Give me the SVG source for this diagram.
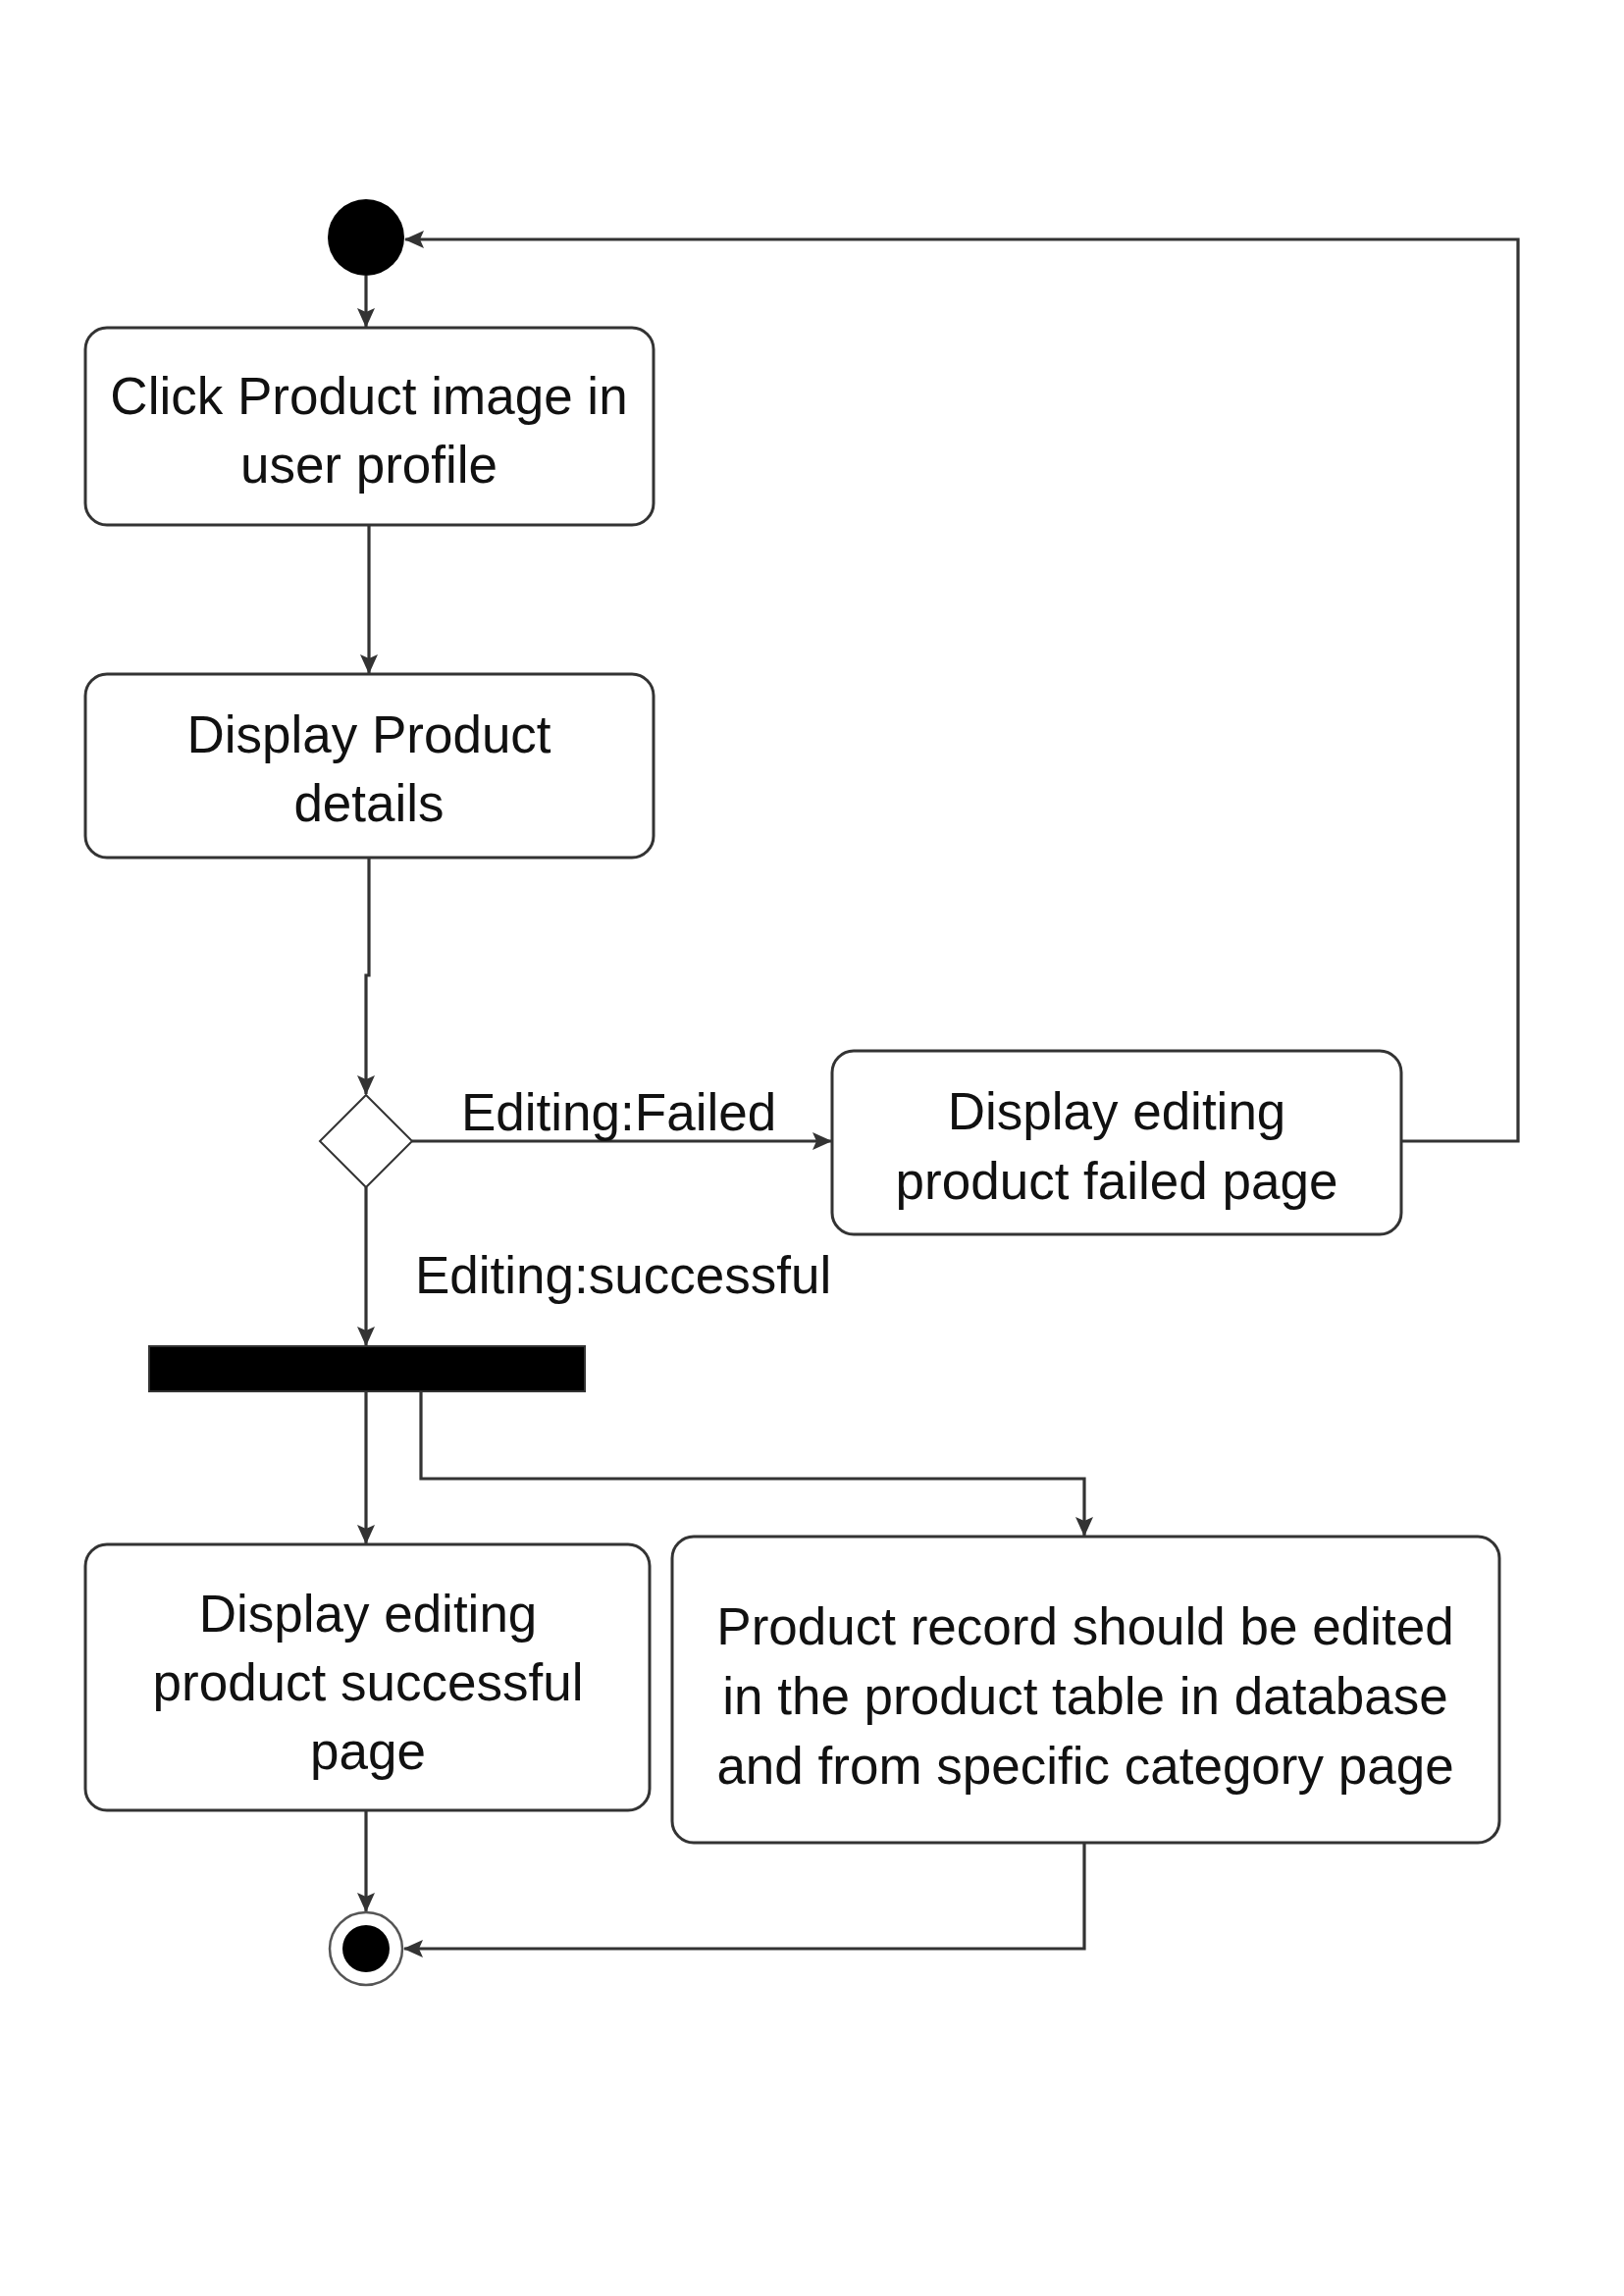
<svg xmlns="http://www.w3.org/2000/svg" width="1655" height="2340" viewBox="0 0 1655 2340">
<style>
.box{fill:#fff;stroke:#333;stroke-width:3}
.t{font-family:"Liberation Sans",Arial,sans-serif;font-size:53px;fill:#111;text-anchor:middle}
.lbl{font-family:"Liberation Sans",Arial,sans-serif;font-size:53px;fill:#111}
.c{fill:none;stroke:#333;stroke-width:3.2;marker-end:url(#ah)}
</style>
<defs>
<marker id="ah" markerUnits="userSpaceOnUse" markerWidth="22" markerHeight="22" viewBox="0 0 22 22" refX="20" refY="11" orient="auto">
<path d="M1,2 L21,11 L1,20 L5,11 z" fill="#333"/>
</marker>
</defs>
<rect width="1655" height="2340" fill="#fff"/>
<g id="connectors">
<path class="c" d="M373,281 V333"/>
<path class="c" d="M376,535 V686"/>
<path class="c" d="M376,874 V994 H373 V1115"/>
<path class="c" d="M420,1163 H847"/>
<path class="c" d="M1428,1163 H1547 V244 H413"/>
<path class="c" d="M373,1210 V1371"/>
<path class="c" d="M373,1418 V1573"/>
<path class="c" d="M429,1418 V1507 H1105 V1565"/>
<path class="c" d="M373,1845 V1948"/>
<path class="c" d="M1105,1878 V1986 H412"/>
</g>
<g id="initial">
<circle cx="373" cy="242" r="39" fill="#000"/>
</g>
<g id="click-product">
<rect class="box" x="87" y="334" width="579" height="201" rx="22"/>
<text class="t" x="376" y="422">Click Product image in</text>
<text class="t" x="376" y="492">user profile</text>
</g>
<g id="display-details">
<rect class="box" x="87" y="687" width="579" height="187" rx="22"/>
<text class="t" x="376" y="767">Display Product</text>
<text class="t" x="376" y="837">details</text>
</g>
<g id="decision">
<polygon points="373,1116 420,1163 373,1210 326,1163" fill="#fff" stroke="#333" stroke-width="2"/>
</g>
<g id="label-failed">
<text class="lbl" x="470" y="1152">Editing:Failed</text>
</g>
<g id="failed-page">
<rect class="box" x="848" y="1071" width="580" height="187" rx="22"/>
<text class="t" x="1138" y="1151">Display editing</text>
<text class="t" x="1138" y="1222">product failed page</text>
</g>
<g id="label-successful">
<text class="lbl" x="423" y="1318">Editing:successful</text>
</g>
<g id="fork">
<rect x="152" y="1372" width="444" height="46" fill="#000" stroke="#333" stroke-width="2"/>
</g>
<g id="successful-page">
<rect class="box" x="87" y="1574" width="575" height="271" rx="22"/>
<text class="t" x="375" y="1663">Display editing</text>
<text class="t" x="375" y="1733">product successful</text>
<text class="t" x="375" y="1803">page</text>
</g>
<g id="record-edited">
<rect class="box" x="685" y="1566" width="843" height="312" rx="22"/>
<text class="t" x="1106" y="1676">Product record should be edited</text>
<text class="t" x="1106" y="1747">in the product table in database</text>
<text class="t" x="1106" y="1818">and from specific category page</text>
</g>
<g id="final">
<circle cx="373" cy="1986" r="37" fill="#fff" stroke="#555" stroke-width="2.5"/>
<circle cx="373" cy="1986" r="24" fill="#000"/>
</g>
</svg>
